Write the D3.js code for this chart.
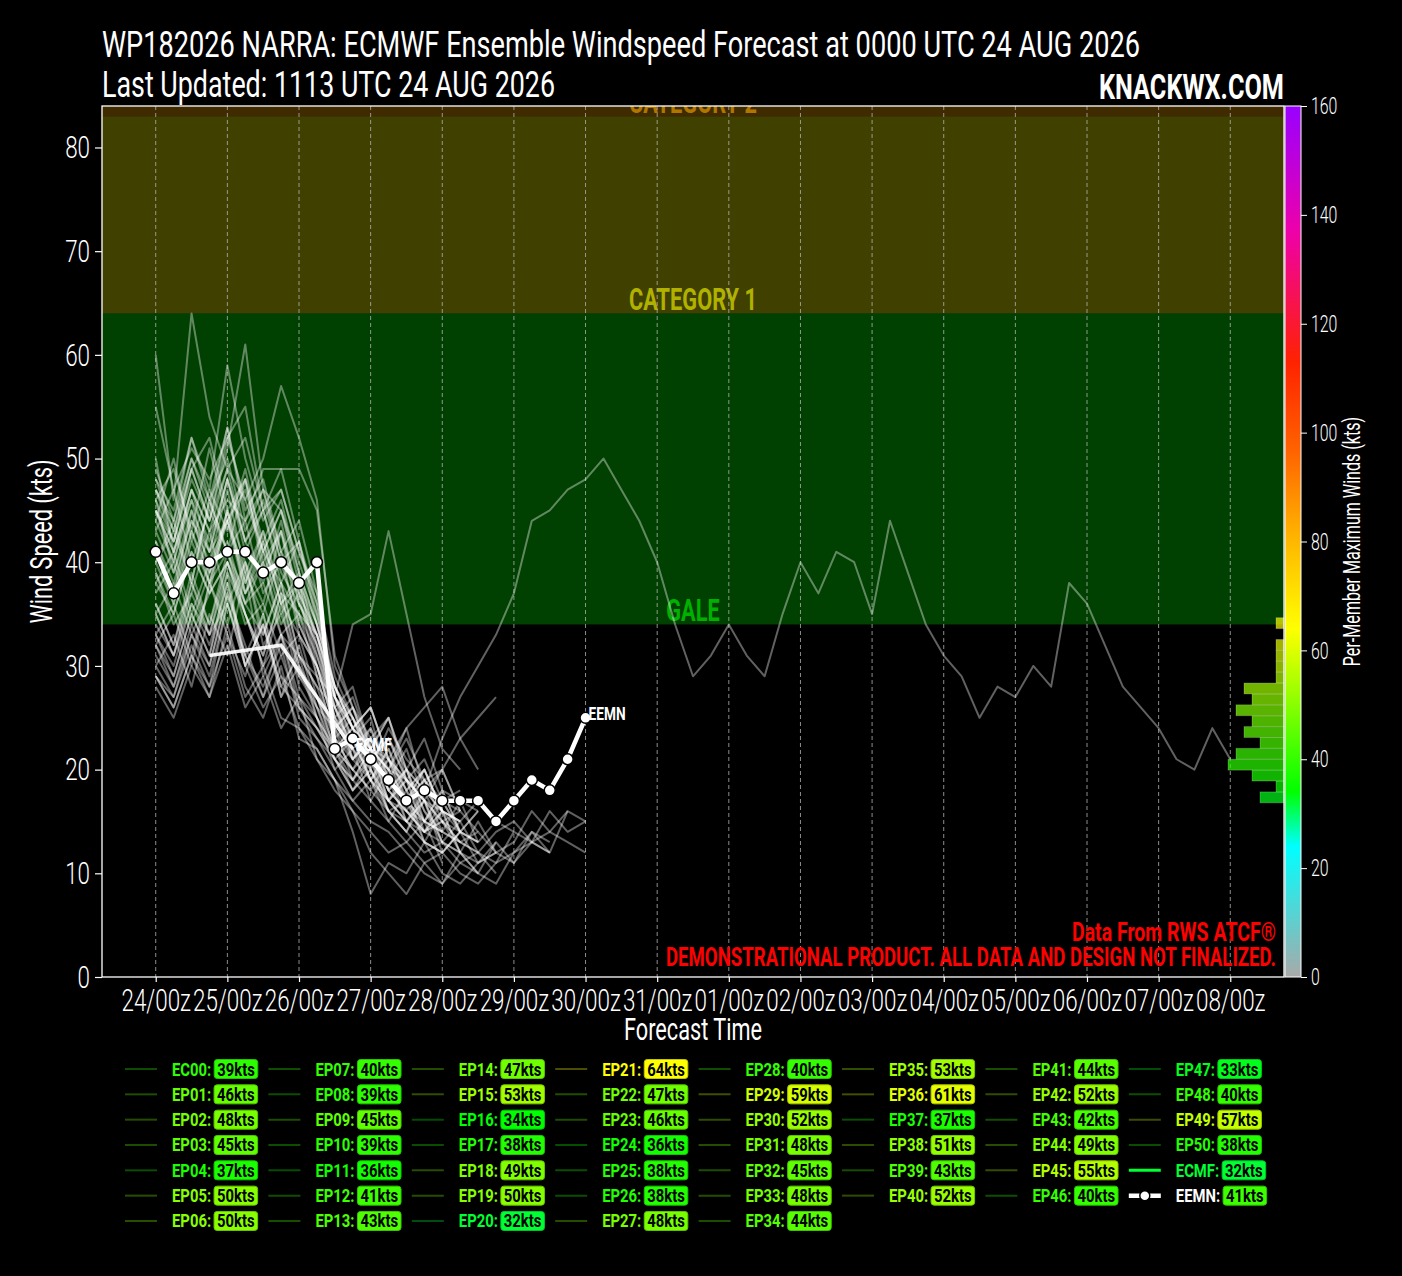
<!DOCTYPE html>
<html>
<head>
<meta charset="utf-8">
<script src="https://cdn.jsdelivr.net/npm/d3@7"></script>
<style>
body{margin:0;background:#000;}
svg{display:block;}
</style>
</head>
<body>
<script>
// ---- data ----
var hourTicks = [0,24,48,72,96,120,144,168,192,216,240,264,288,312,336,360];
var tickLabels = ["24/00z","25/00z","26/00z","27/00z","28/00z","29/00z","30/00z","31/00z",
                  "01/00z","02/00z","03/00z","04/00z","05/00z","06/00z","07/00z","08/00z"];
var yTicks = [0,10,20,30,40,50,60,70,80];
var cbTicks = [0,20,40,60,80,100,120,140,160];

var bandLevels = [34,64,83];
var bandNames = ["GALE","CATEGORY 1","CATEGORY 2"];

var cmapStops = [0,24,34,64,83,96,113,137,160];
var cmapColors = ["#a9a9a9","#00ffff","#00ff00","#ffff00","#ffaa00","#ff6600","#ff2200","#ee00aa","#9900ff"];

var memberNames = ["EC00","EP01","EP02","EP03","EP04","EP05","EP06","EP07","EP08","EP09","EP10",
  "EP11","EP12","EP13","EP14","EP15","EP16","EP17","EP18","EP19","EP20",
  "EP21","EP22","EP23","EP24","EP25","EP26","EP27","EP28","EP29","EP30",
  "EP31","EP32","EP33","EP34","EP35","EP36","EP37","EP38","EP39","EP40",
  "EP41","EP42","EP43","EP44","EP45","EP46","EP47","EP48","EP49","EP50"];

// 6-hourly winds (kts) from 0h, one row per member
var memberWinds = [
  [35,31,36,33,39,35,30,33,29,27,23,20,22,18,16,19,15,13,14,12],
  [40,44,38,46,41,37,42,36,38,31,25,23,19,21,17,14,16],
  [46,39,44,41,48,42,45,38,35,33,27,21,24,19,17,20,16],
  [38,35,41,37,45,40,36,43,34,30,24,26,21,18,20,16,13,15,12,11,14,13,12],
  [31,28,33,30,37,32,27,31,26,24,21,18,20,16,15,17,13],
  [44,50,42,47,43,49,41,38,42,34,26,23,19,22,18,15,17,14],
  [50,41,46,39,44,48,40,43,37,33,28,24,21,23,19,17,15,16,14],
  [33,36,31,38,34,40,32,35,30,26,24,19,17,20,15,13,16,12,11,13],
  [32,29,35,31,39,30,34,28,31,25,22,18,21,16,14,17,12],
  [42,37,45,38,41,36,40,34,37,29,23,25,20,17,19,14,16,12,10,13,11,14,12,16,15],
  [30,33,28,35,31,39,29,33,27,25,20,22,17,15,18,13,10,9,11,12],
  [29,27,32,28,36,30,26,29,24,22,19,16,12,10,8,11,9,12,10],
  [36,32,38,34,41,35,31,37,30,27,22,24,19,17,20,15,18,14],
  [39,34,37,43,36,40,33,38,31,28,26,21,23,19,15,17,13,12,15,12,11,13,14,13,12],
  [45,40,47,41,44,38,43,36,39,32,25,27,22,18,20,16,14,17,13],
  [48,43,50,45,53,44,47,40,42,35,28,24,26,21,19,17,20,16],
  [29,26,31,27,34,28,25,30,23,22,19,14,8,11,10,13,12,14,13],
  [33,29,35,31,38,30,34,27,32,26,21,23,19,22,17,15,18,14,16],
  [45,41,47,43,46,44,49,49,49,45,31,26,22,25,20,23,18,17,16],
  [41,37,43,39,45,38,42,36,33,30,26,22,19,16,14,18,23,27,30,33,37,44,45,47,48,50,47,44,40,34,
   29,31,34,31,29,35,40,37,41,40,35,44,39,34,31,29,25,28,27,30,28,38,36,32,28,26,24,21,20,24,21],
  [28,25,30,27,32,26,29,24,27,21,18,16,14,12,13,15,11],
  [60,46,64,54,49,52,45,47,41,37,27,23,25,19,17,20,16],
  [42,38,44,40,47,39,43,37,35,31,26,22,24,20,17,19,16],
  [40,43,38,46,41,44,37,40,34,30,25,21,23,18,16,14,17,14,13],
  [30,27,33,29,36,31,28,32,25,23,20,17,19,15,13,11,12,14],
  [32,35,30,38,33,29,35,27,30,25,21,19,22,17,19,15,14],
  [35,31,38,33,36,30,34,28,26,24,22,20,18,16,17,13,12,14,11,12,13,16,14,16],
  [43,39,45,41,48,42,38,44,36,32,26,28,22,20,17,19,16,15,17],
  [36,32,39,34,40,35,31,37,29,26,22,24,20,17,15,18,14,13,12,14,15,13,16,14,15],
  [48,45,52,47,59,50,44,47,41,36,27,24,22,25,19,21,17,18],
  [47,43,49,52,45,48,42,46,39,34,28,25,21,23,20,18,16,15],
  [44,40,46,42,48,41,45,39,36,33,25,22,20,24,21,19,20,23,25,27],
  [41,36,43,38,45,37,41,35,38,30,24,21,23,18,16,14,15,12],
  [43,47,40,45,41,48,39,43,36,32,27,23,21,19,22,17,15,14,16],
  [38,41,35,40,44,37,40,33,35,29,23,20,23,25,20,18,16,14,13,15,14],
  [47,44,50,46,53,45,48,41,38,34,28,24,26,21,18,20,16,15],
  [46,42,49,44,51,61,47,45,40,35,27,24,22,20,23,19,17,16],
  [32,28,34,30,37,31,27,33,26,23,21,18,20,16,14,12,13,11,10,9,12,13,12],
  [46,49,43,51,44,47,41,45,38,33,27,25,22,20,24,18,17],
  [39,35,41,37,40,36,38,33,31,29,27,34,35,43,35,27,22,20],
  [49,44,52,46,50,43,47,41,44,37,29,25,21,23,19,18,20,16],
  [40,36,42,38,44,39,35,41,33,30,24,26,21,19,17,15,14,13],
  [47,42,49,44,52,46,41,45,39,34,28,25,22,21,24,26,28,23,20],
  [37,40,34,39,42,36,33,38,31,28,23,21,19,17,15,13,12,10,9,11,12,14,13],
  [45,41,47,43,49,42,46,40,37,33,27,24,26,21,18,20,16,15],
  [55,47,51,48,52,55,45,49,42,36,28,24,22,20,19,17],
  [35,38,33,37,40,34,36,31,33,27,22,20,18,21,16,15,14],
  [29,26,31,28,33,27,30,25,24,21,19,17,15,14,12,10,9,11,12,10],
  [34,31,37,33,40,35,30,36,28,25,22,19,21,17,16,14,15,13,12],
  [45,42,48,44,49,46,50,57,52,46,30,26,23,21,19,17,16],
  [33,30,36,32,38,31,35,29,27,24,21,19,22,17,15,14,13,12]
];

var ecmfHours = [18,42,66];
var ecmfWinds = [31,32,22];
var eemnWinds = [41,37,40,40,41,41,39,40,38,40,22,23,21,19,17,18,17,17,17,15,17,19,18,21,25];

var FONT = "Roboto, 'Liberation Sans', 'DejaVu Sans', sans-serif";

// squeeze text horizontally to look like a condensed face
function squeeze(sel, k){
    sel.each(function(){
        var w = this.getComputedTextLength();
        d3.select(this).attr("textLength", w * k).attr("lengthAdjust", "spacingAndGlyphs");
    });
}

window.onload = function(){
    var W = 1402, H = 1276;
    var m = {left:102, right:1284, top:106, bottom:977};

    var svg = d3.select("body").append("svg")
        .attr("width", W).attr("height", H)
        .style("background-color", "#000");

    var x = d3.scaleLinear().domain([-18, 378]).range([m.left, m.right]);
    var y = d3.scaleLinear().domain([0, 84]).range([m.bottom, m.top]);
    var cb = d3.scaleLinear().domain([0, 160]).range([m.bottom, m.top]);
    var cmap = d3.scaleLinear().domain(cmapStops).range(cmapColors).clamp(true);

    var defs = svg.append("defs");
    defs.append("clipPath").attr("id", "plotclip")
        .append("rect").attr("x", m.left).attr("y", m.top)
        .attr("width", m.right - m.left).attr("height", m.bottom - m.top);

    var plot = svg.append("g").attr("clip-path", "url(#plotclip)");

    // intensity bands
    plot.selectAll(".band").data(bandLevels).enter().append("rect")
        .attr("x", m.left).attr("width", m.right - m.left)
        .attr("y", function(d, i){ return y(i < bandLevels.length - 1 ? bandLevels[i + 1] : 84); })
        .attr("height", function(d, i){ return y(d) - y(i < bandLevels.length - 1 ? bandLevels[i + 1] : 84); })
        .attr("fill", function(d){ return cmap(d); })
        .attr("fill-opacity", 0.25);

    var bandText = plot.selectAll(".bandlabel").data(bandLevels).enter().append("text")
        .attr("x", (m.left + m.right) / 2)
        .attr("y", function(d){ return y(d) - 3; })
        .attr("text-anchor", "middle")
        .attr("font-family", FONT).attr("font-weight", 700).attr("font-size", 32)
        .attr("fill", function(d){ return cmap(d); })
        .attr("fill-opacity", 0.6)
        .text(function(d, i){ return bandNames[i]; });
    squeeze(bandText, 0.68);

    // dashed day lines
    plot.selectAll(".grid").data(hourTicks).enter().append("line")
        .attr("x1", function(d){ return x(d); }).attr("x2", function(d){ return x(d); })
        .attr("y1", m.top).attr("y2", m.bottom)
        .attr("stroke", "#b0b0b0").attr("stroke-opacity", 0.8)
        .attr("stroke-width", 1).attr("stroke-dasharray", "4,3");

    // ensemble members
    var memberLine = d3.line()
        .x(function(d, i){ return x(i * 6); })
        .y(function(d){ return y(d); });
    plot.selectAll(".member").data(memberWinds).enter().append("path")
        .attr("d", memberLine)
        .attr("fill", "none")
        .attr("stroke", "#ffffff").attr("stroke-opacity", 0.38)
        .attr("stroke-width", 2).attr("stroke-linejoin", "round");

    // deterministic ECMF
    var ecmfLine = d3.line()
        .x(function(d, i){ return x(ecmfHours[i]); })
        .y(function(d){ return y(d); });
    plot.append("path").datum(ecmfWinds)
        .attr("d", ecmfLine).attr("fill", "none")
        .attr("stroke", "#ffffff").attr("stroke-opacity", 0.92)
        .attr("stroke-width", 3.5);

    // ensemble mean EEMN
    plot.append("path").datum(eemnWinds)
        .attr("d", memberLine).attr("fill", "none")
        .attr("stroke", "#ffffff").attr("stroke-width", 4.5).attr("stroke-linejoin", "round");
    plot.selectAll(".eemnpt").data(eemnWinds).enter().append("circle")
        .attr("cx", function(d, i){ return x(i * 6); })
        .attr("cy", function(d){ return y(d); })
        .attr("r", 5.5)
        .attr("fill", "#fff").attr("stroke", "#000").attr("stroke-width", 1.5);

    // end labels
    var endLabels = [
        {name:"ECMF", h:ecmfHours[ecmfHours.length - 1], v:ecmfWinds[ecmfWinds.length - 1]},
        {name:"EEMN", h:(eemnWinds.length - 1) * 6, v:eemnWinds[eemnWinds.length - 1]}
    ];
    var endText = plot.selectAll(".endlabel").data(endLabels).enter().append("text")
        .attr("x", function(d){ return x(d.h) + 3; })
        .attr("y", function(d){ return y(d.v) + 2; })
        .attr("font-family", FONT).attr("font-weight", 700).attr("font-size", 18)
        .attr("fill", "#fff")
        .text(function(d){ return d.name; });
    squeeze(endText, 0.76);

    // per-member maximum histogram on the colorbar scale
    var items = memberNames.map(function(n, i){ return {name:n, max:d3.max(memberWinds[i]), kind:"member"}; });
    items.push({name:"ECMF", max:d3.max(ecmfWinds), kind:"ecmf"});
    items.push({name:"EEMN", max:d3.max(eemnWinds), kind:"eemn"});

    var bins = d3.bin().domain([0, 160]).thresholds(d3.range(0, 162, 2))
        (items.map(function(d){ return d.max; }));
    var hx = d3.scaleLinear().domain([0, 10]).range([0, 80]);
    svg.selectAll(".hist").data(bins.filter(function(b){ return b.length > 0; })).enter().append("rect")
        .attr("x", function(d){ return m.right - hx(d.length); })
        .attr("width", function(d){ return hx(d.length); })
        .attr("y", function(d){ return cb(d.x1); })
        .attr("height", function(d){ return cb(d.x0) - cb(d.x1); })
        .attr("fill", function(d){ return cmap((d.x0 + d.x1) / 2); })
        .attr("fill-opacity", 0.7)
        .attr("stroke", "#ffffff").attr("stroke-opacity", 0.2).attr("stroke-width", 1);

    // frame
    svg.append("rect")
        .attr("x", m.left).attr("y", m.top)
        .attr("width", m.right - m.left).attr("height", m.bottom - m.top)
        .attr("fill", "none").attr("stroke", "#fff").attr("stroke-width", 1.3);

    // y axis
    var yAxis = svg.append("g").attr("transform", "translate(" + m.left + ",0)")
        .call(d3.axisLeft(y).tickValues(yTicks).tickSize(7).tickPadding(5));
    yAxis.select(".domain").remove();
    yAxis.attr("font-family", FONT).attr("font-size", 32).attr("font-weight", 300);
    yAxis.selectAll("line").attr("stroke", "#fff").attr("stroke-width", 1.2);
    yAxis.selectAll("text").attr("fill", "#fff");
    squeeze(yAxis.selectAll("text"), 0.7);

    // x axis
    var xAxis = svg.append("g").attr("transform", "translate(0," + m.bottom + ")")
        .call(d3.axisBottom(x).tickValues(hourTicks)
            .tickFormat(function(d, i){ return tickLabels[i]; })
            .tickSize(5).tickPadding(6));
    xAxis.select(".domain").remove();
    xAxis.attr("font-family", FONT).attr("font-size", 32).attr("font-weight", 300);
    xAxis.selectAll("line").attr("stroke", "#fff").attr("stroke-width", 1.2);
    xAxis.selectAll("text").attr("fill", "#fff");
    squeeze(xAxis.selectAll("text"), 0.7);

    // axis titles
    var yTitle = svg.append("text")
        .attr("transform", "translate(52," + ((m.top + m.bottom) / 2) + ") rotate(-90)")
        .attr("text-anchor", "middle")
        .attr("font-family", FONT).attr("font-size", 31).attr("fill", "#fff")
        .text("Wind Speed (kts)");
    squeeze(yTitle, 0.7);
    var xTitle = svg.append("text")
        .attr("x", (m.left + m.right) / 2).attr("y", 1040)
        .attr("text-anchor", "middle")
        .attr("font-family", FONT).attr("font-size", 31).attr("fill", "#fff")
        .text("Forecast Time");
    squeeze(xTitle, 0.7);

    // colorbar
    var grad = defs.append("linearGradient").attr("id", "cbgrad")
        .attr("x1", 0).attr("y1", 1).attr("x2", 0).attr("y2", 0);
    grad.selectAll("stop").data(cmapStops).enter().append("stop")
        .attr("offset", function(d){ return d / 160; })
        .attr("stop-color", function(d, i){ return cmapColors[i]; });
    var cbX = 1285, cbW = 16;
    svg.append("rect")
        .attr("x", cbX).attr("y", m.top).attr("width", cbW).attr("height", m.bottom - m.top)
        .attr("fill", "url(#cbgrad)").attr("stroke", "#fff").attr("stroke-width", 1);
    var cbAxis = svg.append("g").attr("transform", "translate(" + (cbX + cbW) + ",0)")
        .call(d3.axisRight(cb).tickValues(cbTicks).tickSize(6).tickPadding(4));
    cbAxis.select(".domain").remove();
    cbAxis.attr("font-family", FONT).attr("font-size", 24).attr("font-weight", 300);
    cbAxis.selectAll("line").attr("stroke", "#fff");
    cbAxis.selectAll("text").attr("fill", "#fff");
    squeeze(cbAxis.selectAll("text"), 0.66);
    var cbTitle = svg.append("text")
        .attr("transform", "translate(1360," + ((m.top + m.bottom) / 2) + ") rotate(-90)")
        .attr("text-anchor", "middle")
        .attr("font-family", FONT).attr("font-size", 23).attr("fill", "#fff")
        .text("Per-Member Maximum Winds (kts)");
    squeeze(cbTitle, 0.7);

    // titles
    svg.append("text").attr("x", m.left).attr("y", 57)
        .attr("font-family", FONT).attr("font-size", 37).attr("fill", "#fff")
        .attr("textLength", 1038).attr("lengthAdjust", "spacingAndGlyphs")
        .text("WP182026 NARRA: ECMWF Ensemble Windspeed Forecast at 0000 UTC 24 AUG 2026");
    svg.append("text").attr("x", m.left).attr("y", 97)
        .attr("font-family", FONT).attr("font-size", 37).attr("fill", "#fff")
        .attr("textLength", 453).attr("lengthAdjust", "spacingAndGlyphs")
        .text("Last Updated: 1113 UTC 24 AUG 2026");
    svg.append("text").attr("x", m.right).attr("y", 99)
        .attr("text-anchor", "end")
        .attr("font-family", FONT).attr("font-size", 35).attr("font-weight", 700).attr("fill", "#fff")
        .attr("textLength", 185).attr("lengthAdjust", "spacingAndGlyphs")
        .text("KNACKWX.COM");

    // disclaimer
    svg.append("text").attr("x", 1276).attr("y", 941)
        .attr("text-anchor", "end")
        .attr("font-family", FONT).attr("font-size", 26).attr("font-weight", 700).attr("fill", "#ff0000")
        .attr("textLength", 204).attr("lengthAdjust", "spacingAndGlyphs")
        .text("Data From RWS ATCF®");
    svg.append("text").attr("x", 1276).attr("y", 966)
        .attr("text-anchor", "end")
        .attr("font-family", FONT).attr("font-size", 26).attr("font-weight", 700).attr("fill", "#ff0000")
        .attr("textLength", 610).attr("lengthAdjust", "spacingAndGlyphs")
        .text("DEMONSTRATIONAL PRODUCT. ALL DATA AND DESIGN NOT FINALIZED.");

    // legend, filled column by column
    var ncol = 8, nrow = Math.ceil(items.length / ncol);
    var full = items.length % ncol || ncol;
    var k = 0;
    for (var c = 0; c < ncol; c++){
        var count = c < full ? nrow : nrow - 1;
        for (var r = 0; r < count; r++){
            items[k].col = c; items[k].row = r; k++;
        }
    }
    var leg = svg.selectAll(".leg").data(items).enter().append("g")
        .attr("transform", function(d){ return "translate(" + (125 + d.col * 143.4) + "," + (1069 + d.row * 25.33) + ")"; });
    leg.append("line")
        .attr("x1", 0).attr("x2", 32).attr("y1", 0).attr("y2", 0)
        .attr("stroke", function(d){ return d.kind === "eemn" ? "#fff" : cmap(d.max); })
        .attr("stroke-opacity", function(d){ return d.kind === "member" ? 0.3 : 1; })
        .attr("stroke-width", function(d){ return d.kind === "member" ? 2 : d.kind === "ecmf" ? 3 : 4.5; });
    leg.filter(function(d){ return d.kind === "eemn"; }).append("circle")
        .attr("cx", 16).attr("cy", 0).attr("r", 5)
        .attr("fill", "#fff").attr("stroke", "#000").attr("stroke-width", 1.5);
    leg.each(function(d){
        var g = d3.select(this);
        var lab = g.append("text").attr("x", 47).attr("y", 6.5)
            .attr("font-family", FONT).attr("font-size", 19).attr("font-weight", 700)
            .attr("fill", d.kind === "eemn" ? "#fff" : cmap(d.max))
            .text(d.name + ":");
        squeeze(lab, 0.78);
        var bx = 47 + (+lab.attr("textLength")) + 3;
        var box = g.append("rect").attr("y", -9.5).attr("height", 19).attr("rx", 3)
            .attr("fill", cmap(d.max)).attr("stroke", d3.color(cmap(d.max)).darker(0.7)).attr("stroke-width", 1);
        var val = g.append("text").attr("x", bx + 3).attr("y", 6.5)
            .attr("font-family", FONT).attr("font-size", 19).attr("font-weight", 700)
            .attr("fill", "#000")
            .text(d.max + "kts");
        squeeze(val, 0.78);
        box.attr("x", bx).attr("width", (+val.attr("textLength")) + 6);
    });
};
</script>
</body>
</html>
